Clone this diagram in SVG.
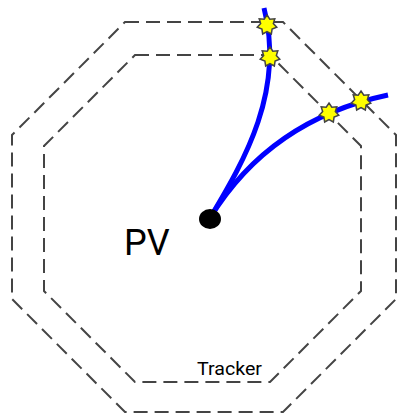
<svg xmlns="http://www.w3.org/2000/svg" width="398" height="415" viewBox="0 0 398 415">
<defs>
<style>
.layer{fill:none;stroke:#444;stroke-width:2;stroke-dasharray:14 7}
.track{fill:none;stroke:#0000ff;stroke-width:5;stroke-linecap:butt}
.hit{fill:#ffff00;stroke:#444;stroke-width:1.5;stroke-linejoin:miter}
.lbl{font-family:Roboto,"Liberation Sans",sans-serif;fill:#000}
</style>
<polygon id="star" points="0,-10 2.82,-5.86 7.82,-6.23 6.34,-1.45 9.75,2.23 5.08,4.05 4.34,9.01 0,6.5 -4.34,9.01 -5.08,4.05 -9.75,2.23 -6.34,-1.45 -7.82,-6.23 -2.82,-5.86"/>
</defs>
<rect width="398" height="415" fill="#fff"/>
<g id="outer-layer"><polygon class="layer" points="125,22 283,22 396,135 396,299 283,412 125,412 12,299 12,135"/></g>
<g id="inner-layer"><polygon class="layer" points="135,55 270,55 361,146 361,291 270,382 135,382 44,291 44,146"/></g>
<g id="connectors">
<path class="track" d="M210,218 C245,160 285,90 264,8"/>
<path class="track" d="M210,218 Q270,120 388,95"/>
</g>
<g id="hits">
<use href="#star" class="hit" x="267" y="25"/>
<use href="#star" class="hit" x="270" y="57"/>
<use href="#star" class="hit" x="329" y="113"/>
<use href="#star" class="hit" x="361" y="101"/>
</g>
<g id="pv">
<ellipse cx="210" cy="219" rx="11" ry="10" fill="#000"/>
<text class="lbl" x="124" y="255" font-size="36">PV</text>
</g>
<g id="tracker-label"><text class="lbl" x="197" y="375" font-size="18.5" textLength="65" lengthAdjust="spacingAndGlyphs">Tracker</text></g>
</svg>
